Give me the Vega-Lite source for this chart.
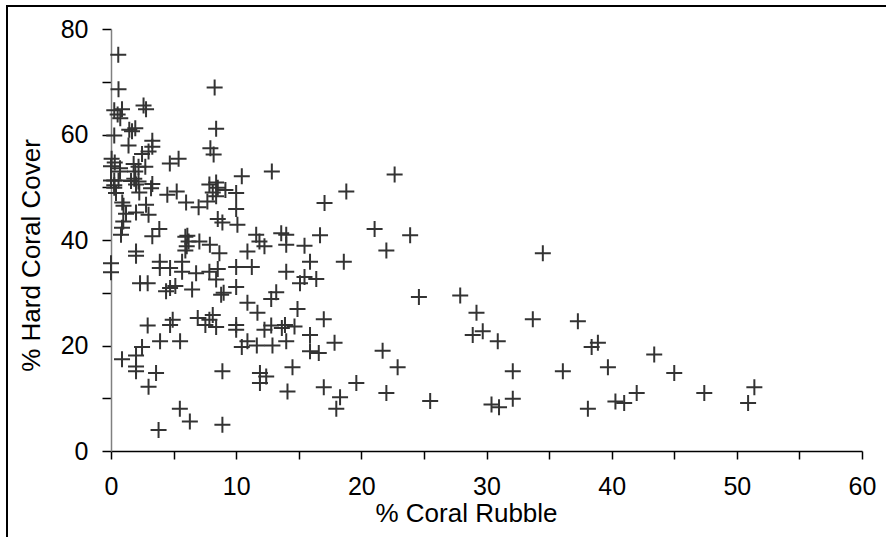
{
  "$schema": "https://vega.github.io/schema/vega-lite/v6.json",
  "width": 751,
  "height": 422,
  "autosize": "none",
  "padding": {"left": 111, "top": 29, "right": 24, "bottom": 86},
  "background": "white",
  "config": {
    "view": {"stroke": null},
    "font": "Liberation Sans",
    "axis": {"grid": false, "labelFont": "Liberation Sans", "titleFont": "Liberation Sans", "labelColor": "black", "titleColor": "black", "tickColor": "black", "labelFontSize": 25, "titleFontSize": 26, "titleFontWeight": "normal"}
  },
  "data": {"values": [
    {"rubble": 0.58, "cover": 75.1}, {"rubble": 0.6, "cover": 68.6}, {"rubble": 8.28, "cover": 68.9},
    {"rubble": 0.26, "cover": 64.6}, {"rubble": 0.88, "cover": 64.8}, {"rubble": 0.53, "cover": 63.8}, {"rubble": 0.74, "cover": 63.1},
    {"rubble": 2.6, "cover": 65.5}, {"rubble": 2.8, "cover": 64.8},
    {"rubble": 0.26, "cover": 59.8},
    {"rubble": 1.46, "cover": 60.9}, {"rubble": 1.68, "cover": 60.6}, {"rubble": 1.94, "cover": 61.2},
    {"rubble": 8.4, "cover": 61.1},
    {"rubble": 3.3, "cover": 58.8}, {"rubble": 3.3, "cover": 57.7},
    {"rubble": 1.4, "cover": 57.9},
    {"rubble": 2.48, "cover": 56.3}, {"rubble": 3.0, "cover": 56.8},
    {"rubble": 7.94, "cover": 57.4}, {"rubble": 8.2, "cover": 56.2},
    {"rubble": 0.05, "cover": 55.4}, {"rubble": 0.3, "cover": 54.7}, {"rubble": 0.0, "cover": 54.0},
    {"rubble": 0.72, "cover": 53.6}, {"rubble": 0.72, "cover": 53.0},
    {"rubble": 1.81, "cover": 54.4}, {"rubble": 2.2, "cover": 53.9}, {"rubble": 2.74, "cover": 53.9}, {"rubble": 1.94, "cover": 53.0},
    {"rubble": 4.7, "cover": 54.5}, {"rubble": 5.4, "cover": 55.4},
    {"rubble": 0.0, "cover": 51.3}, {"rubble": 0.26, "cover": 51.3}, {"rubble": 0.6, "cover": 51.3}, {"rubble": 0.26, "cover": 50.4},
    {"rubble": 1.6, "cover": 51.2}, {"rubble": 1.86, "cover": 51.6}, {"rubble": 2.2, "cover": 51.1}, {"rubble": 2.0, "cover": 50.5},
    {"rubble": 3.3, "cover": 50.6}, {"rubble": 3.2, "cover": 49.8},
    {"rubble": 2.26, "cover": 49.0},
    {"rubble": 0.26, "cover": 49.9}, {"rubble": 0.4, "cover": 48.9},
    {"rubble": 4.5, "cover": 48.6}, {"rubble": 5.25, "cover": 49.2},
    {"rubble": 6.0, "cover": 47.1}, {"rubble": 7.0, "cover": 46.2},
    {"rubble": 7.86, "cover": 50.5}, {"rubble": 8.4, "cover": 50.9}, {"rubble": 8.13, "cover": 49.0}, {"rubble": 8.53, "cover": 49.9}, {"rubble": 9.14, "cover": 49.5},
    {"rubble": 7.7, "cover": 47.3}, {"rubble": 8.4, "cover": 48.3},
    {"rubble": 0.9, "cover": 47.1}, {"rubble": 1.0, "cover": 46.5},
    {"rubble": 2.8, "cover": 46.7}, {"rubble": 3.0, "cover": 44.8},
    {"rubble": 2.0, "cover": 45.2}, {"rubble": 1.2, "cover": 45.0},
    {"rubble": 0.98, "cover": 43.5}, {"rubble": 0.88, "cover": 42.3}, {"rubble": 0.8, "cover": 41.0},
    {"rubble": 8.53, "cover": 44.0}, {"rubble": 8.9, "cover": 43.3},
    {"rubble": 3.86, "cover": 42.1}, {"rubble": 3.3, "cover": 40.7},
    {"rubble": 6.1, "cover": 40.8},
    {"rubble": 5.94, "cover": 40.6}, {"rubble": 6.2, "cover": 39.7}, {"rubble": 6.05, "cover": 38.8}, {"rubble": 5.94, "cover": 38.0},
    {"rubble": 7.06, "cover": 39.7}, {"rubble": 7.9, "cover": 39.1}, {"rubble": 8.66, "cover": 37.5},
    {"rubble": 2.0, "cover": 37.8}, {"rubble": 2.0, "cover": 37.0},
    {"rubble": 0.0, "cover": 35.6}, {"rubble": 0.0, "cover": 33.9},
    {"rubble": 3.9, "cover": 35.9}, {"rubble": 3.9, "cover": 34.7}, {"rubble": 4.72, "cover": 34.7},
    {"rubble": 5.68, "cover": 35.9}, {"rubble": 5.68, "cover": 34.0},
    {"rubble": 6.8, "cover": 33.7},
    {"rubble": 7.86, "cover": 34.0}, {"rubble": 8.53, "cover": 34.5}, {"rubble": 8.4, "cover": 32.5},
    {"rubble": 2.32, "cover": 31.8}, {"rubble": 2.93, "cover": 31.8},
    {"rubble": 4.4, "cover": 30.3}, {"rubble": 4.72, "cover": 30.9}, {"rubble": 5.14, "cover": 31.3},
    {"rubble": 6.48, "cover": 30.6},
    {"rubble": 8.8, "cover": 29.6}, {"rubble": 9.0, "cover": 30.0},
    {"rubble": 2.93, "cover": 23.8},
    {"rubble": 4.72, "cover": 23.9}, {"rubble": 4.93, "cover": 24.9},
    {"rubble": 6.93, "cover": 25.2}, {"rubble": 7.54, "cover": 23.9}, {"rubble": 7.86, "cover": 24.9}, {"rubble": 8.13, "cover": 25.8}, {"rubble": 8.4, "cover": 23.5},
    {"rubble": 2.48, "cover": 19.7}, {"rubble": 3.92, "cover": 20.8}, {"rubble": 5.52, "cover": 20.8},
    {"rubble": 0.88, "cover": 17.4},
    {"rubble": 2.0, "cover": 18.1}, {"rubble": 2.0, "cover": 16.0}, {"rubble": 2.0, "cover": 15.1},
    {"rubble": 3.6, "cover": 14.8}, {"rubble": 3.0, "cover": 12.2}, {"rubble": 8.9, "cover": 15.1},
    {"rubble": 5.5, "cover": 8.0}, {"rubble": 6.3, "cover": 5.6}, {"rubble": 3.8, "cover": 4.0}, {"rubble": 8.9, "cover": 5.0},
    {"rubble": 12.85, "cover": 53.0}, {"rubble": 10.45, "cover": 52.1}, {"rubble": 10.0, "cover": 48.9}, {"rubble": 10.0, "cover": 45.9}, {"rubble": 10.1, "cover": 42.9},
    {"rubble": 11.6, "cover": 41.0}, {"rubble": 13.6, "cover": 41.3}, {"rubble": 14.0, "cover": 41.0},
    {"rubble": 11.86, "cover": 39.7}, {"rubble": 12.26, "cover": 38.8}, {"rubble": 14.0, "cover": 39.1},
    {"rubble": 10.9, "cover": 37.8}, {"rubble": 10.0, "cover": 34.9}, {"rubble": 11.25, "cover": 34.9}, {"rubble": 14.0, "cover": 34.0},
    {"rubble": 10.0, "cover": 31.1}, {"rubble": 10.9, "cover": 28.1}, {"rubble": 11.7, "cover": 26.2}, {"rubble": 13.2, "cover": 30.1}, {"rubble": 12.8, "cover": 28.8},
    {"rubble": 10.0, "cover": 23.9}, {"rubble": 10.0, "cover": 23.0}, {"rubble": 12.26, "cover": 23.0}, {"rubble": 12.8, "cover": 23.8}, {"rubble": 13.65, "cover": 23.3}, {"rubble": 13.9, "cover": 23.9}, {"rubble": 14.0, "cover": 20.8},
    {"rubble": 10.45, "cover": 19.7}, {"rubble": 10.9, "cover": 20.8}, {"rubble": 11.65, "cover": 20.0}, {"rubble": 12.9, "cover": 20.0},
    {"rubble": 11.9, "cover": 14.8}, {"rubble": 11.9, "cover": 12.9}, {"rubble": 12.4, "cover": 14.1},
    {"rubble": 14.1, "cover": 11.3},
    {"rubble": 22.66, "cover": 52.4}, {"rubble": 18.8, "cover": 49.2}, {"rubble": 17.06, "cover": 47.0}, {"rubble": 21.06, "cover": 42.1}, {"rubble": 23.9, "cover": 40.9}, {"rubble": 16.7, "cover": 40.9},
    {"rubble": 15.46, "cover": 38.9}, {"rubble": 22.0, "cover": 38.0}, {"rubble": 15.9, "cover": 35.9}, {"rubble": 18.6, "cover": 35.9},
    {"rubble": 15.46, "cover": 33.0}, {"rubble": 15.1, "cover": 31.8}, {"rubble": 16.4, "cover": 32.6},
    {"rubble": 14.9, "cover": 26.9}, {"rubble": 14.66, "cover": 23.6}, {"rubble": 17.0, "cover": 25.0}, {"rubble": 15.9, "cover": 22.0}, {"rubble": 15.9, "cover": 18.9}, {"rubble": 16.6, "cover": 18.6}, {"rubble": 17.86, "cover": 20.5},
    {"rubble": 14.5, "cover": 15.9}, {"rubble": 17.0, "cover": 12.1}, {"rubble": 18.3, "cover": 10.2}, {"rubble": 18.0, "cover": 8.0}, {"rubble": 19.6, "cover": 12.9}, {"rubble": 21.7, "cover": 19.0}, {"rubble": 22.9, "cover": 15.9}, {"rubble": 22.0, "cover": 11.0},
    {"rubble": 24.6, "cover": 29.2}, {"rubble": 25.5, "cover": 9.5}, {"rubble": 27.9, "cover": 29.5}, {"rubble": 29.2, "cover": 26.2}, {"rubble": 28.9, "cover": 22.0}, {"rubble": 29.7, "cover": 22.7}, {"rubble": 30.9, "cover": 20.8},
    {"rubble": 32.1, "cover": 15.1}, {"rubble": 32.1, "cover": 9.9}, {"rubble": 30.4, "cover": 8.8}, {"rubble": 31.0, "cover": 8.3}, {"rubble": 33.7, "cover": 25.0},
    {"rubble": 34.5, "cover": 37.5}, {"rubble": 37.3, "cover": 24.6}, {"rubble": 36.1, "cover": 15.1}, {"rubble": 38.4, "cover": 19.7}, {"rubble": 38.9, "cover": 20.5}, {"rubble": 39.7, "cover": 15.9},
    {"rubble": 38.1, "cover": 8.0}, {"rubble": 40.3, "cover": 9.4}, {"rubble": 41.0, "cover": 9.1}, {"rubble": 42.0, "cover": 11.0}, {"rubble": 43.4, "cover": 18.3}, {"rubble": 45.0, "cover": 14.8},
    {"rubble": 47.4, "cover": 11.0}, {"rubble": 51.4, "cover": 12.1}, {"rubble": 50.9, "cover": 9.1}
  ]},
  "layer": [
    {
      "mark": {"type": "point", "shape": "M-1,0L1,0M0,-1L0,1", "filled": false, "size": 256, "strokeWidth": 2, "color": "#333333", "opacity": 1},
      "encoding": {
        "x": {"field": "rubble", "type": "quantitative", "scale": {"domain": [0, 60], "nice": false, "zero": false},
          "axis": {"title": "% Coral Rubble", "values": [0, 5, 10, 15, 20, 25, 30, 35, 40, 45, 50, 55, 60], "labelExpr": "datum.value % 10 === 0 ? datum.label : ''", "domainColor": "black", "domainWidth": 1.5, "tickSize": 8, "tickWidth": 1.5, "labelPadding": 15, "titlePadding": 1, "titleX": 355, "labelFlush": false}},
        "y": {"field": "cover", "type": "quantitative", "scale": {"domain": [0, 80], "nice": false, "zero": false},
          "axis": {"title": "% Hard Coral Cover", "values": [0, 10, 20, 30, 40, 50, 60, 70, 80], "labelExpr": "datum.value % 20 === 0 ? datum.label : ''", "domainColor": "#808080", "domainWidth": 1.5, "tickSize": 9, "tickWidth": 1.5, "labelPadding": 14, "titlePadding": 16, "titleY": 226, "labelFlush": false}}
      }
    },
    {
      "mark": {"type": "rule", "color": "black", "strokeWidth": 1.5},
      "encoding": {"x": {"datum": -8.3}, "y": {"datum": 84.4}, "y2": {"datum": -20}}
    },
    {
      "mark": {"type": "rule", "color": "black", "strokeWidth": 1.5},
      "encoding": {"x": {"datum": -8.3}, "x2": {"datum": 62}, "y": {"datum": 84.4}}
    }
  ]
}
